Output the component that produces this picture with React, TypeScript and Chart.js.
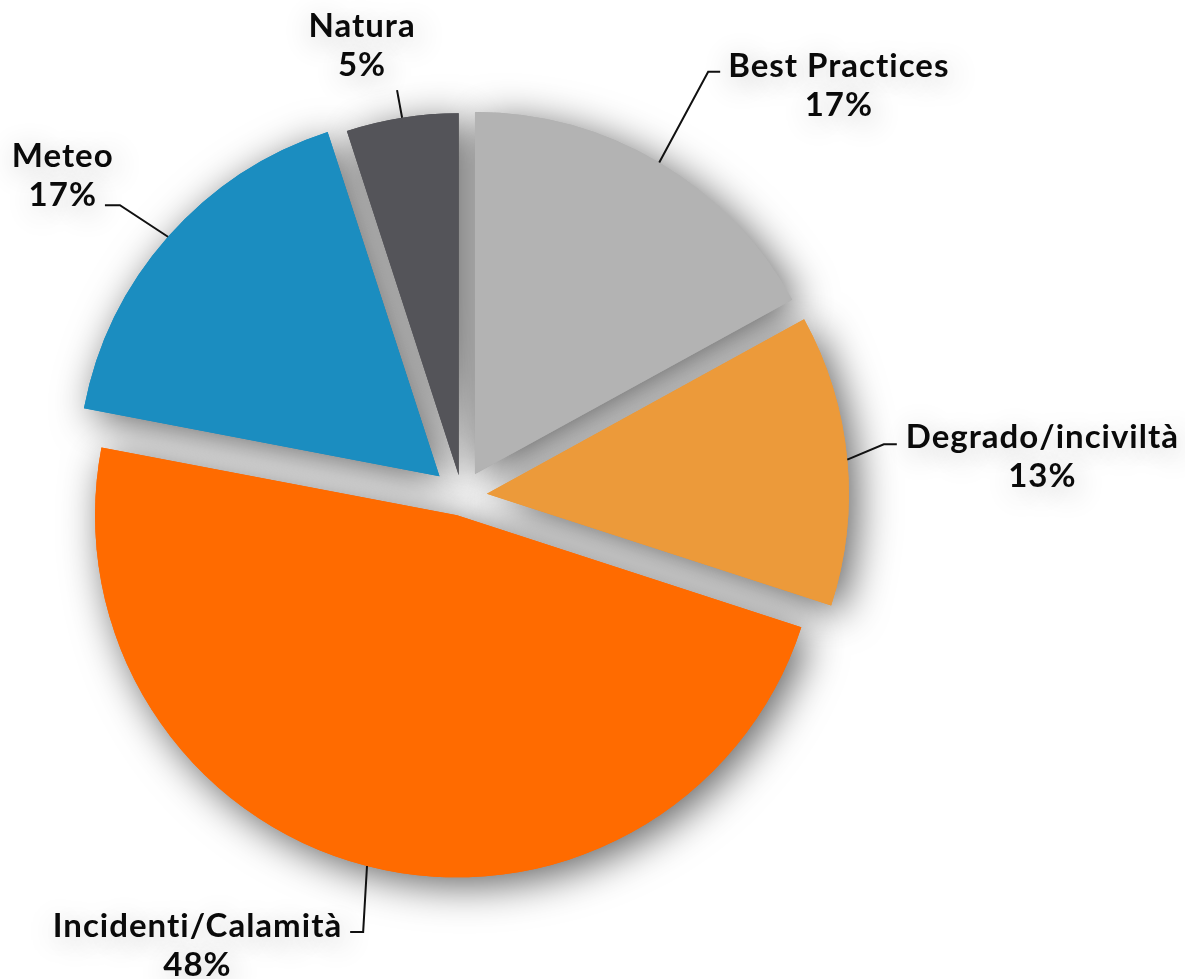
import React, { useEffect, useRef } from 'react';
import { Chart, registerables } from 'chart.js';

Chart.register(...registerables);

// ---- data ----
const categories = ['Best Practices', 'Degrado/inciviltà', 'Incidenti/Calamità', 'Meteo', 'Natura'];
const percentages = [17, 13, 48, 17, 5];
const sliceColors = ['#b3b3b3', '#ec9a3a', '#ff6b00', '#1b8dc0', '#545459'];

// ---- style: how far each slice is pulled out from the centre (px) ----
const explodeBy = [25.5, 25, 20, 30, 21];

// ---- label layout (style only) ----
// ext: radial length of leader beyond the rim, turn: degrees tweak of elbow angle,
// h: horizontal tail length, anchorLine: text line attached to the tail
const labelLayout = [
  { ext: 103, turn: -0.5, h: 12, anchorLine: 0, side: 'left', dx: 8, dy: 5 },
  { ext: 38, turn: -1.7, h: 13, anchorLine: 0, side: 'left', dx: 9, dy: 4 },
  { ext: 65, turn: -1.7, h: -13, anchorLine: 0, side: 'right', dx: -8, dy: 5 },
  { ext: 57, turn: -1.1, h: -15, anchorLine: 1, side: 'right', dx: -8, dy: 1 },
  { ext: 28, turn: -0.1, h: 0, anchorLine: 1, side: 'center', dx: -35, dy: -14 },
];

const FONT = 'bold 33px Lato, "Open Sans", sans-serif';
const LINE_H = 39;

const explodedPie = {
  id: 'explodedPie',
  beforeDatasetsDraw(chart: any) {
    const ctx = chart.ctx;
    const arcs = chart.getDatasetMeta(0).data;
    const drawAll = () => {
      arcs.forEach((arc: any, i: number) => {
        const mid = (arc.startAngle + arc.endAngle) / 2;
        const d = explodeBy[i];
        ctx.save();
        ctx.translate(Math.cos(mid) * d, Math.sin(mid) * d);
        arc.draw(ctx);
        ctx.restore();
      });
    };
    // shadow pass
    ctx.save();
    ctx.shadowColor = 'rgba(0,0,0,0.62)';
    ctx.shadowBlur = 40;
    ctx.shadowOffsetX = 8;
    ctx.shadowOffsetY = 8;
    drawAll();
    ctx.restore();
    // clean pass
    drawAll();
    return false;
  },
  afterDraw(chart: any) {
    const ctx = chart.ctx;
    const arcs = chart.getDatasetMeta(0).data;
    ctx.save();
    ctx.font = FONT;
    (ctx as any).letterSpacing = '1px';
    arcs.forEach((arc: any, i: number) => {
      const L = labelLayout[i];
      const mid = (arc.startAngle + arc.endAngle) / 2;
      const d = explodeBy[i];
      const cx = arc.x + Math.cos(mid) * d;
      const cy = arc.y + Math.sin(mid) * d;
      const r = arc.outerRadius;
      const p0 = { x: cx + Math.cos(mid) * r, y: cy + Math.sin(mid) * r };
      const a1 = mid + (L.turn * Math.PI) / 180;
      const p1 = { x: cx + Math.cos(a1) * (r + L.ext), y: cy + Math.sin(a1) * (r + L.ext) };
      const p2 = { x: p1.x + L.h, y: p1.y };

      ctx.save();
      ctx.strokeStyle = '#111';
      ctx.lineWidth = 2;
      ctx.beginPath();
      ctx.moveTo(p0.x, p0.y);
      ctx.lineTo(p1.x, p1.y);
      if (L.h !== 0) ctx.lineTo(p2.x, p2.y);
      ctx.stroke();
      ctx.restore();

      const lines = [categories[i], percentages[i] + '%'];
      const aw = ctx.measureText(lines[L.anchorLine]).width;
      let centerX: number;
      if (L.side === 'left') centerX = p2.x + L.dx + aw / 2;
      else if (L.side === 'right') centerX = p2.x + L.dx - aw / 2;
      else centerX = p2.x + L.dx;
      const anchorBase = p2.y + L.dy;

      ctx.save();
      ctx.fillStyle = '#0a0a0a';
      ctx.textAlign = 'center';
      ctx.textBaseline = 'alphabetic';
      ctx.shadowColor = 'rgba(0,0,0,0.3)';
      ctx.shadowBlur = 30;
      ctx.shadowOffsetX = 3;
      ctx.shadowOffsetY = 6;
      lines.forEach((t, k) => {
        ctx.fillText(t, centerX, anchorBase + (k - L.anchorLine) * LINE_H);
      });
      ctx.restore();
    });
    ctx.restore();
  },
};

export default function App() {
  const ref = useRef<HTMLCanvasElement>(null);
  useEffect(() => {
    document.body.style.margin = '0';
    const chart = new Chart(ref.current as HTMLCanvasElement, {
      type: 'pie',
      data: {
        labels: categories,
        datasets: [
          {
            data: percentages,
            backgroundColor: sliceColors,
            borderWidth: 0,
            radius: 362,
          } as any,
        ],
      },
      options: {
        responsive: false,
        animation: false,
        layout: { padding: { left: 0, right: 261, top: 13, bottom: 0 } },
        plugins: {
          legend: { display: false },
          tooltip: { enabled: false },
        },
      },
      plugins: [explodedPie as any],
    });
    return () => chart.destroy();
  }, []);
  return (
    <div style={{ position: 'absolute', left: 0, top: 0, width: 1185, height: 979, background: '#fff' }}>
      <canvas ref={ref} width={1185} height={979} style={{ display: 'block', width: 1185, height: 979 }} />
    </div>
  );
}
